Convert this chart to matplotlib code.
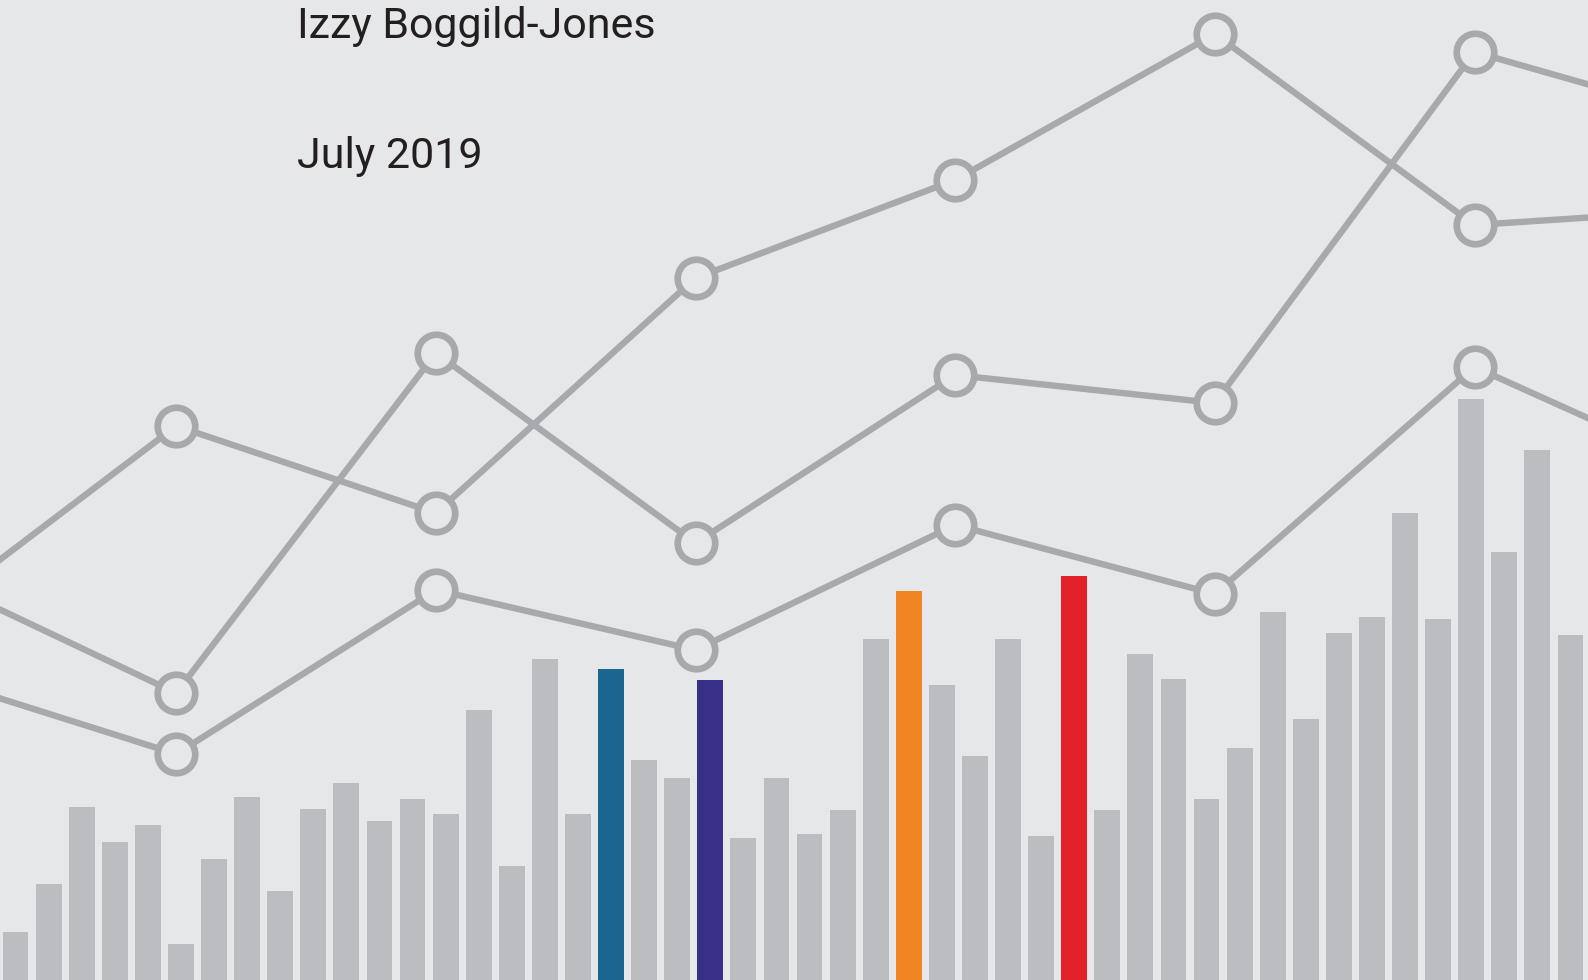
# decorative bar + line chart with title text
import matplotlib.pyplot as plt
import numpy as np

# bar heights (px from the bottom of the canvas)
bar_values = [48, 96, 173, 138, 155, 36, 121, 183, 89, 171, 197, 159,
              181, 166, 270, 114, 321, 166, 311, 220, 202, 300, 142, 202,
              146, 170, 341, 389, 295, 224, 341, 144, 404, 170, 326, 301,
              181, 232, 368, 261, 347, 363, 467, 361, 581, 428, 530, 345]
# highlighted bars: index -> colour
highlights = {18: "#1b6690", 21: "#372f88", 27: "#f18522", 32: "#e22129"}

# line series, points at x = -1..6 (first and last sit off the canvas)
line_x = [-1, 0, 1, 2, 3, 4, 5, 6]
series_a = [357, 554, 467, 702, 800, 946, 755, 772]
series_b = [410, 287, 627, 437, 605, 577, 928, 854]
series_c = [308, 226, 390, 330, 455, 386, 613, 496]

bg = "#e6e7e9"
bar_grey = "#bcbdc0"
line_grey = "#a7a9ac"

fig = plt.figure(figsize=(15.88, 9.8), dpi=100)
fig.patch.set_facecolor(bg)

ax = fig.add_axes([0, 0, 1, 1])
ax.set_facecolor(bg)
idx = np.arange(len(bar_values))
colors = [highlights.get(i, bar_grey) for i in idx]
ax.bar(idx, bar_values, width=0.78, color=colors, edgecolor="none")
ax.set_xlim(-0.47, 47.53)
ax.set_ylim(0, 980)
ax.axis("off")

# overlay for the lines, own x scale
ax2 = fig.add_axes([0, 0, 1, 1])
ax2.patch.set_alpha(0)
for s in (series_a, series_b, series_c):
    ax2.plot(line_x, s, color=line_grey, lw=4.6, marker="o", ms=27,
             mew=4.8, mfc=bg, mec=line_grey, solid_joinstyle="miter",
             zorder=3)
ax2.set_xlim(-0.6785, 5.437)
ax2.set_ylim(0, 980)
ax2.axis("off")

fig.text(0.187, 0.9615, "Izzy Boggild-Jones", family="Roboto", fontsize=31,
         color="#231f20", va="baseline", ha="left")
fig.text(0.187, 0.8289, "July 2019", family="Roboto", fontsize=31,
         color="#231f20", va="baseline", ha="left")

fig.savefig("out.png", dpi=100, facecolor=bg)
